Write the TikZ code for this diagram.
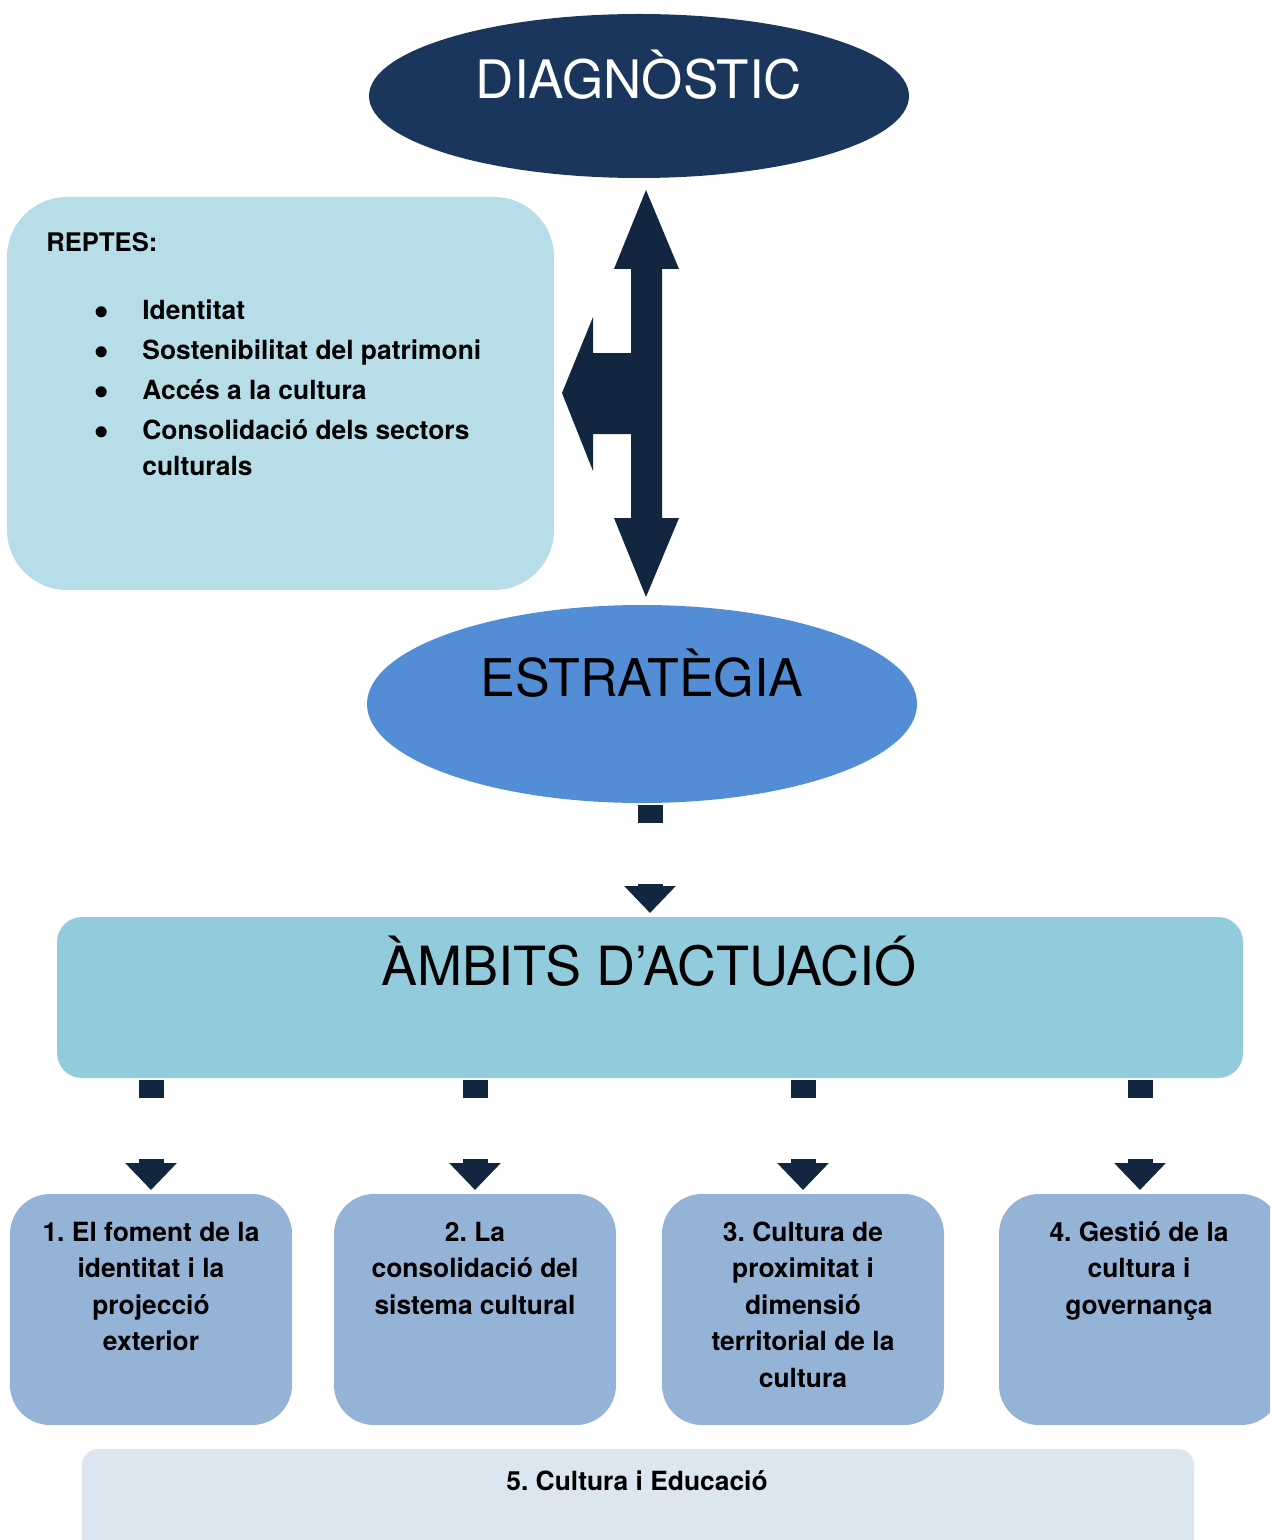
\documentclass[tikz,border=0pt]{standalone}
\usepackage{fontspec}
\setmainfont{TeX Gyre Heros}
\frenchspacing
\usetikzlibrary{positioning, calc, shapes.geometric, arrows.meta}
\definecolor{darknavy}{RGB}{18,38,64}
\definecolor{diagblue}{RGB}{26,54,93}
\definecolor{estrblue}{RGB}{83,141,213}
\definecolor{reptesblue}{RGB}{182,221,232}
\definecolor{ambitsblue}{RGB}{146,203,220}
\definecolor{boxblue}{RGB}{149,179,215}
\definecolor{paleblue}{RGB}{220,230,241}
\newcommand{\repbul}{\makebox[24pt][l]{\fontsize{15.5}{15.5}\selectfont$\bullet$}}

\begin{document}
\begin{tikzpicture}[
        x=0.5pt, y=-0.5pt,
        oval/.style={ellipse, inner sep=0pt, outer sep=0pt},
        bigtxt/.style={anchor=base, inner sep=0pt, font=\fontsize{26}{30}\selectfont},
        panel/.style={rectangle, inner sep=0pt, outer sep=0pt},
        ambitbox/.style={panel, fill=boxblue, rounded corners=20pt, minimum width=141pt, minimum height=115.5pt},
        ambittxt/.style={anchor=base, inner sep=0pt, align=center, font=\bfseries\fontsize{13.2}{18.25}\selectfont},
        dlink/.style={draw=darknavy, line width=12.5pt, dash pattern=on 9pt off 30.5pt on 20pt, shorten <=1pt, shorten >=2pt, -{Triangle[width=25pt,length=13.5pt]}}
    ]
        \clip (0,0) rectangle (1270,1540);

        % Diagnostic
        \node[oval, fill=diagblue, minimum width=270pt, minimum height=82pt] (diag) at (639,96) {};
        \node[bigtxt, text=white, font=\fontsize{26.5}{30}\selectfont] (diagT) at (639,99) {DIAGNÒSTIC};

        % Reptes (multi-line texts sit on the baseline of their last line)
        \node[panel, fill=reptesblue, rounded corners=30pt, minimum width=273.5pt, minimum height=196.5pt] (reptes) at (280.5,393.5) {};
        \node[anchor=base west, inner sep=0pt, font=\bfseries\fontsize{12.8}{15}\selectfont] (reptesT) at (46,252) {REPTES:};
        \node[anchor=base west, inner sep=0pt, align=left, font=\bfseries\fontsize{13.2}{20}\selectfont] (reptesL) at (94,475) {%
            \repbul Identitat\\
            \repbul Sostenibilitat del patrimoni\\
            \repbul Accés a la cultura\\
            \repbul Consolidació dels sectors\\[-2pt]
            \hspace*{24pt}culturals};

        % Arrow between diagnostic, reptes and estrategia
        \fill[darknavy] (646,190) -- (679,269) -- (662,269) -- (662,518) -- (679,518) -- (646,597)
            -- (614,518) -- (631,518) -- (631,434) -- (593,434) -- (593,471) -- (562,393)
            -- (593,317) -- (593,353) -- (631,353) -- (631,269) -- (614,269) -- cycle;

        % Estrategia
        \node[oval, fill=estrblue, minimum width=275pt, minimum height=99pt] (estr) at (642,704) {};
        \node[bigtxt] (estrT) at (642,696) {ESTRATÈGIA};

        % Ambits
        \node[panel, fill=ambitsblue, rounded corners=12.5pt, minimum width=593pt, minimum height=80.5pt] (ambits) at (650,997.5) {};
        \node[bigtxt, font=\fontsize{27}{30}\selectfont] (ambitsT) at (649,985) {ÀMBITS D’ACTUACIÓ};

        % Ambit boxes
        \node[ambitbox] (a1) at (151,1309.5) {};
        \node[ambitbox] (a2) at (475,1309.5) {};
        \node[ambitbox] (a3) at (803,1309.5) {};
        \node[ambitbox] (a4) at (1140,1309.5) {};
        \node[ambittxt] (a1T) at (151,1350.5) {1. El foment de la\\identitat i la\\projecció\\exterior};
        \node[ambittxt] (a2T) at (475,1314) {2. La\\consolidació del\\sistema cultural};
        \node[ambittxt] (a3T) at (803,1387) {3. Cultura de\\proximitat i\\dimensió\\territorial de la\\cultura};
        \node[ambittxt] (a4T) at (1139,1314) {4. Gestió de la\\cultura i\\governança};

        % Cultura i educacio
        \node[panel, fill=paleblue, rounded corners=8pt, minimum width=556pt, minimum height=60.5pt] (a5) at (638,1509.5) {};
        \node[ambittxt] (a5T) at (637,1490) {5. Cultura i Educació};

        % Arrows
        \draw[dlink] (estr.south -| ambits) -- (ambits);
        \foreach \b in {a1,a2,a3,a4}
            \draw[dlink] (ambits.south -| \b) -- (\b);
    \end{tikzpicture}
\end{document}
